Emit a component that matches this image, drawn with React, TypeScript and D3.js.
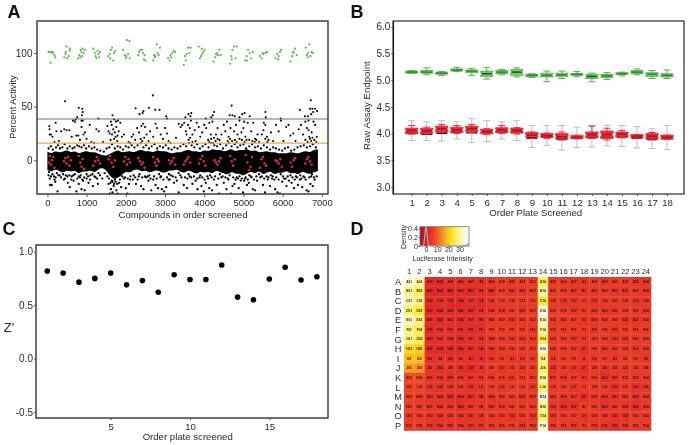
import * as d3 from 'd3';
import React, { useEffect, useRef } from 'react';

// panel A, values
const controlHigh = [
  [30,101],[70,101],[110,100.5],[150,100],[180,98],[200,96],[80,91],[130,101],
  [430,96],[460,99],[490,106],[500,95],[540,97],[570,102],[580,104],[470,101],
  [780,95],[820,98],[850,103],[870,101],[890,97],[900,104],[930,100],[960,103],[840,96],
  [1170,104],[1210,100],[1230,97],[1250,95],[1280,102],[1300,99],[1320,96],[1340,101],
  [1550,97],[1590,99],[1620,103],[1650,105],[1680,93],[1700,100],[1730,102],[1600,95],
  [1930,103],[1970,98],[2000,95],[2030,112],[2060,99],[2090,111],[2100,95],[2010,97],
  [2320,98],[2340,101],[2370,103],[2410,103],[2440,100],[2460,94],[2480,98],[2500,93],
  [2700,93],[2740,96],[2760,97],[2790,108],[2810,100],[2840,98],[2870,105],[2720,98],
  [3080,95],[3120,93],[3150,96],[3190,100],[3220,102],[3260,101],[3140,98],
  [3480,89],[3510,97],[3550,99],[3590,105],[3620,100],[3650,105],[3530,93],
  [3860,106],[3890,95],[3920,97],[3950,99],[3980,101],[4010,103],[3940,104],
  [4240,92],[4280,96],[4320,100],[4350,98],[4390,103],[4420,98],[4300,99],
  [4660,90],[4690,97],[4720,103],[4760,106],[4800,95],[4830,106],[4700,94],
  [5040,93],[5080,97],[5120,103],[5160,100],[5200,95],[5240,101],[5090,93],
  [5420,97],[5470,95],[5510,99],[5560,100],[5600,101],[5490,100],
  [5820,95],[5860,99],[5900,97],[5930,101],[5960,103],[5890,94],
  [6200,92],[6240,97],[6280,101],[6320,104],[6360,98],[6270,100],
  [6590,105],[6620,98],[6650,100],[6680,108],[6710,97],[6740,101],[6770,100],[6640,96],
];

const hitPoints = [
  [450,55],[2690,60.5],[4700,51],[6720,56],[800,49],[890,48],[900,45],[880,42],[650,37],[720,38],[760,40],[870,37],[900,37],
  [1300,39],[1660,42],[1620,36],[1700,38],[1750,36],[1800,37],[2250,48.5],[2350,43],[2430,44],[2450,46],[2590,49],[2750,47],
  [2860,47],[3030,41],[3050,39],[3520,40],[3600,43],[3670,44],[3650,41],[4040,39],[4180,40],[4220,42],[4250,45],[4650,42],
  [4720,42],[4780,41],[4900,40],[4970,43],[5030,44],[4900,37],[5020,36],[5160,41],[5520,35],[5560,45],[5570,40],[5950,39],
  [6440,47],[6570,41],[6650,41],[6700,48],[6760,48],[6830,48],[6880,46],[6730,43],[6780,45],[6660,37],
  [50,32],[55,29],[60,24],[90,24],[130,22],[180,17],[210,35],[230,27],[290,18],[350,27],[430,29],[490,28],[560,28],[620,22],
  [700,36],[740,23],[790,23],[830,19],[870,31],[920,24],[960,26],[1000,20],[1080,33],[1120,17],[1190,16],[1250,29],[1310,27],
  [1420,17],[1530,32],[1560,27],[1590,25],[1640,33],[1680,29],[1720,26],[1760,31],[1790,23],[1820,27],[1860,35],[1900,22],
  [1950,24],[2070,17],[2110,16],[2150,22],[2190,24],[2240,19],[2290,30],[2340,26],[2400,32],[2440,34],[2490,31],[2530,24],
  [2580,18],[2620,27],[2700,22],[2760,34],[2800,30],[2890,24],[2950,20],[3000,30],[3050,25],[3090,18],[3140,16],[3280,21],
  [3350,34],[3400,31],[3440,33],[3490,35],[3530,27],[3550,24],[3590,33],[3630,30],[3660,37],[3700,24],[3760,28],[3810,35],
  [3860,31],[3900,22],[3950,26],[4000,33],[4050,30],[4100,19],[4130,35],[4170,24],[4210,36],[4250,21],[4290,18],[4340,30],
  [4390,19],[4440,24],[4500,33],[4540,27],[4580,36],[4620,22],[4670,30],[4710,18],[4760,27],[4810,33],[4850,24],[4900,20],
  [4950,26],[5000,30],[5050,22],[5110,35],[5150,19],[5200,27],[5250,35],[5300,20],[5360,24],[5400,17],[5470,24],[5510,28],
  [5560,33],[5600,22],[5640,19],[5700,26],[5760,18],[5830,33],[5900,27],[5960,37],[6020,18],[6090,31],[6150,33],[6200,23],
  [6270,25],[6330,18],[6410,29],[6470,33],[6520,24],[6580,36],[6620,30],[6660,28],[6700,20],[6740,26],[6790,36],[6830,33],[6870,22],
  [1650,24],[1700,20],[1740,22],[1780,18],[1610,19],[2380,20],[2420,18],[2470,21],[3600,19],[3640,21],[3700,17],[3780,18],
  [4130,17],[4180,20],[4230,16],[4300,24],[4340,20],[4600,18],[4660,20],[4780,19],[4830,17],[4960,19],[5030,17],[5080,19],
  [5230,18],[5290,17],[5330,19],[5560,20],[5610,17],[6580,19],[6640,17],[6680,22],[6730,18],[6760,21],[6810,19],[6860,17],
];

const upperEdge = [
  [30,11],[90,13],[140,10],[220,12],[270,14],[320,11],[380,12],[440,15],[510,11],[570,13],[640,11],[690,12],[760,14],[810,13],[870,12],[930,14],[990,11],[1060,13],
  [1130,11],[1200,12],[1270,10],[1350,9],[1440,8],[1510,11],[1580,12],[1650,15],[1720,11],[1790,13],[1860,12],[1930,10],[2000,13],[2070,12],[2150,14],[2220,12],
  [2300,14],[2380,16],[2450,12],[2520,14],[2590,11],[2660,13],[2730,15],[2800,11],[2870,13],[2950,12],[3020,14],[3090,11],[3170,10],[3240,12],[3320,11],[3390,13],
  [3470,15],[3540,13],[3610,16],[3680,14],[3750,12],[3820,15],[3890,11],[3960,13],[4030,15],[4110,12],[4180,16],[4260,14],[4330,13],[4410,15],[4480,11],[4560,14],
  [4630,16],[4700,13],[4780,15],[4850,12],[4920,14],[5000,15],[5070,11],[5150,13],[5220,15],[5300,12],[5370,13],[5450,11],[5520,14],[5600,12],[5680,10],[5760,12],
  [5830,11],[5910,10],[5990,9],[6060,11],[6140,12],[6220,9],[6300,10],[6380,12],[6460,13],[6540,14],[6620,12],[6700,13],[6770,15],[6850,12],
];

const lowerPoints = [
  [30,-14],[70,-23],[110,-23],[60,-17],[170,-15],[200,-20],[260,-29],[180,-18],[310,-14],[350,-16],[420,-18],[470,-14],[520,-21],[570,-25],[620,-15],[670,-19],
  [740,-29],[800,-22],[830,-16],[870,-27],[910,-19],[950,-28],[1000,-17],[1050,-21],[1100,-14],[1160,-24],[1230,-16],[1290,-22],[1340,-14],[1400,-17],
  [1530,-15],[1560,-22],[1590,-31],[1620,-27],[1640,-19],[1660,-30],[1690,-24],[1720,-18],[1760,-28],[1790,-31],[1830,-21],[1880,-25],[1950,-17],[2000,-26],
  [2040,-31],[2080,-22],[2120,-15],[2180,-18],[2260,-22],[2330,-15],[2390,-24],[2450,-27],[2520,-16],[2580,-19],[2650,-28],[2700,-18],[2760,-23],[2820,-26],
  [2880,-16],[2920,-27],[2980,-29],[3030,-25],[3090,-18],[3150,-14],[3230,-21],[3300,-19],[3350,-30],[3420,-16],[3480,-23],[3560,-26],[3630,-15],[3700,-22],
  [3780,-19],[3830,-27],[3880,-16],[3930,-24],[3990,-29],[4040,-21],[4080,-15],[4130,-26],[4200,-28],[4250,-18],[4320,-23],[4380,-31],[4440,-16],[4500,-21],
  [4570,-27],[4620,-18],[4680,-31],[4720,-24],[4770,-22],[4830,-16],[4880,-26],[4930,-19],[4990,-30],[5040,-17],[5090,-23],[5140,-21],[5190,-15],[5240,-27],
  [5300,-28],[5350,-19],[5430,-16],[5500,-23],[5550,-30],[5620,-18],[5680,-24],[5750,-15],[5810,-27],[5870,-30],[5930,-31],[5990,-20],[6040,-17],[6100,-24],
  [6160,-19],[6230,-21],[6290,-26],[6340,-15],[6390,-23],[6440,-18],[6500,-25],[6560,-16],[6610,-28],[6660,-29],[6710,-22],[6770,-24],[6820,-18],[6870,-15],
  [40,-11],[130,-13],[240,-12],[400,-13],[560,-14],[700,-13],[850,-14],[1000,-13],[1150,-13],[1300,-12],[1460,-12],[2200,-14],[2350,-13],[2600,-14],[2850,-13],
  [3100,-13],[3350,-12],[3600,-13],[3900,-14],[4150,-14],[4400,-13],[4650,-14],[4900,-15],[5150,-14],[5400,-13],[5700,-14],[5950,-13],[6200,-14],[6450,-14],[6750,-13],
  [90,-15],[210,-16],[280,-14],[450,-17],[510,-15],[610,-18],[660,-14],[760,-17],[800,-15],[890,-18],[940,-16],[1040,-15],[1090,-18],[1200,-15],[1270,-17],
  [1570,-17],[1610,-21],[1660,-20],[1700,-22],[1740,-20],[1780,-22],[1850,-18],[1910,-15],[1980,-16],[2050,-17],[2110,-18],[2240,-16],[2300,-18],[2420,-16],
  [2490,-15],[2560,-15],[2630,-17],[2720,-15],[2790,-17],[2900,-15],[2960,-18],[3050,-16],[3120,-18],[3200,-15],[3270,-16],[3390,-14],[3510,-16],[3570,-17],
  [3670,-16],[3740,-15],[3820,-17],[3950,-16],[4010,-18],[4100,-17],[4190,-16],[4280,-15],[4360,-17],[4470,-15],[4540,-16],[4600,-17],[4740,-16],[4800,-18],
  [4860,-17],[4960,-17],[5020,-19],[5060,-16],[5110,-18],[5210,-16],[5270,-18],[5330,-15],[5470,-15],[5530,-17],[5590,-15],[5640,-16],[5730,-17],[5790,-18],
  [5840,-16],[5900,-18],[6010,-15],[6080,-17],[6130,-15],[6250,-16],[6310,-18],[6370,-16],[6480,-17],[6530,-15],[6590,-18],[6680,-16],[6730,-15],[6800,-16],
];

const bandX = d3.range(0, 7000, 100);
const bandTop = [
  8,6,9,7,8,10,7,9,6,8,
  9,7,8,6,5,4,6,8,10,7,
  8,9,7,9,10,8,9,7,10,8,
  9,7,6,8,7,9,10,8,9,7,
  10,8,11,9,10,8,9,11,8,10,
  9,11,8,10,7,8,9,7,8,6,
  7,6,8,7,6,8,9,7,10,10,
];
const bandBottom = [
  -9,-11,-8,-10,-12,-9,-11,-9,-13,-10,
  -11,-9,-12,-8,-7,-9,-15,-18,-16,-14,
  -10,-12,-9,-8,-11,-9,-12,-10,-9,-11,
  -12,-9,-10,-8,-11,-12,-9,-11,-13,-10,
  -12,-10,-13,-9,-11,-12,-14,-10,-13,-12,
  -15,-12,-10,-13,-9,-14,-11,-10,-14,-11,
  -12,-9,-13,-11,-14,-10,-12,-13,-11,-10,
];

const controlLow = [
  [40,-2],[60,4],[90,-4],[120,0],[150,3],[180,-7],[420,-1],[460,2],[490,-3],[530,3],[560,-5],[600,0],
  [800,4],[840,-2],[870,-6],[900,1],[940,-8],[1170,-5],[1220,-1],[1260,3],[1300,0],[1340,-3],
  [1560,1],[1600,4],[1640,-2],[1680,-6],[1720,0],[1950,-1],[1990,3],[2030,-4],[2070,1],[2110,-2],
  [2320,2],[2360,-1],[2400,-4],[2440,-2],[2480,-7],[2700,3],[2740,-2],[2780,-5],[2810,1],[2840,-1],
  [3100,0],[3140,-3],[3180,-1],[3220,2],[3260,-4],[3480,-4],[3520,-1],[3560,1],[3600,3],[3640,-2],
  [3870,-3],[3910,1],[3950,4],[3990,-1],[4030,-5],[4260,0],[4300,-2],[4340,-4],[4380,-1],[4420,2],
  [4660,4],[4700,-1],[4740,-5],[4780,1],[5060,5],[5100,-2],[5140,-9],[5180,-6],[5220,3],[5420,-7],[5460,1],[5500,3],[5540,-3],[5580,-5],
  [5820,0],[5860,-1],[5900,-3],[5940,1],[5980,-6],[6200,-2],[6240,-6],[6280,0],[6320,2],[6580,-3],[6620,1],[6660,3],[6700,-1],[6740,-4],
];

const hitCutoffs = [38.5, 16];

// panel B
const plates = d3.range(1, 19);
const rawLow = [3.87,3.87,3.86,3.90,3.83,3.85,3.90,3.87,3.74,3.78,3.69,3.74,3.75,3.77,3.76,3.73,3.72,3.70];
const rawHigh = [4.24,4.22,4.24,4.22,4.28,4.24,4.22,4.24,4.15,4.15,4.15,4.12,4.15,4.15,4.15,4.13,4.09,4.15];
const rawQ1 = [3.99,3.98,4.0,4.01,4.0,3.99,4.01,4.0,3.9,3.92,3.88,3.9,3.9,3.91,3.92,3.9,3.88,3.89];
const rawQ3 = [4.1,4.09,4.11,4.11,4.12,4.08,4.1,4.1,4.02,4.0,3.99,3.97,4.02,4.03,4.02,3.98,3.98,3.97];
const rawMedian = [4.01,3.99,4.01,4.03,4.02,4.02,4.03,4.03,3.92,3.94,3.90,3.92,3.93,3.93,3.94,3.92,3.90,3.91];
const negLow = [3.99,3.99,4.02,4.0,4.02,3.98,4.0,3.99,3.91,3.91,3.88,3.9,3.91,3.88,3.92,3.92,3.88,3.89];
const negQ1 = [4.0,4.0,4.03,4.02,4.04,4.0,4.02,4.01,3.94,3.93,3.91,3.91,3.93,3.91,3.94,3.93,3.91,3.9];
const negMedian = [4.06,4.05,4.09,4.07,4.09,4.04,4.07,4.06,3.97,3.96,3.94,3.93,3.98,3.98,3.99,3.95,3.95,3.93];
const negQ3 = [4.1,4.1,4.14,4.12,4.14,4.08,4.11,4.1,4.02,4.0,4.0,3.96,4.03,4.05,4.03,3.98,4.0,3.97];
const negHigh = [4.15,4.12,4.17,4.15,4.17,4.09,4.15,4.11,4.03,4.01,4.03,3.97,4.14,4.1,4.06,3.98,4.02,3.97];
const posLow = [5.13,5.10,5.09,5.16,5.09,5.02,5.10,5.06,5.05,4.97,5.03,5.07,4.97,5.01,5.08,5.10,5.03,5.03];
const posQ1 = [5.13,5.13,5.11,5.17,5.14,5.07,5.12,5.09,5.07,5.06,5.07,5.09,5.03,5.05,5.11,5.12,5.07,5.06];
const posMedian = [5.15,5.15,5.13,5.19,5.17,5.12,5.15,5.15,5.09,5.09,5.10,5.11,5.07,5.08,5.12,5.15,5.11,5.09];
const posQ3 = [5.17,5.18,5.15,5.21,5.19,5.17,5.18,5.20,5.11,5.13,5.13,5.12,5.11,5.11,5.14,5.18,5.14,5.12];
const posHigh = [5.18,5.23,5.16,5.24,5.22,5.24,5.20,5.23,5.12,5.17,5.17,5.16,5.13,5.14,5.15,5.21,5.18,5.19];
const posDarkPlates = [6, 8, 13];

// panel C
const zPrime = [0.82,0.80,0.715,0.75,0.80,0.69,0.73,0.62,0.785,0.74,0.74,0.875,0.575,0.55,0.745,0.855,0.735,0.765];

// panel D
const rowNames = ['A','B','C','D','E','F','G','H','I','J','K','L','M','N','O','P'];
const colNames = d3.range(1, 25);
const intensity = [
  [35,31,3,3,4,4,4,4,5,6,5,6,6,27,6,6,5,5,6,5,6,6,5,5],
  [29,27,3,3,3,4,3,4,4,6,5,5,6,30,6,6,5,5,5,6,5,5,6,5],
  [32,29,3,4,3,3,4,3,5,6,6,6,6,25,6,5,5,6,5,6,6,6,5,6],
  [28,25,3,3,3,3,3,4,5,5,6,5,6,36,6,6,5,6,5,5,5,6,6,5],
  [33,29,4,3,4,3,4,4,5,6,5,6,6,33,6,5,6,5,5,6,6,5,5,6],
  [29,26,3,4,4,4,3,4,6,6,6,6,5,30,6,6,6,6,5,6,5,6,6,6],
  [29,26,4,4,4,3,4,4,5,6,5,5,6,26,6,6,5,5,6,6,5,5,6,6],
  [22,21,3,3,3,3,4,4,5,6,6,6,6,35,6,6,6,4,6,5,6,6,5,6],
  [19,19,4,5,4,5,4,4,5,6,5,5,6,28,6,6,6,5,5,6,5,6,6,5],
  [16,15,5,4,5,4,3,4,6,5,6,5,6,27,5,6,5,4,6,5,6,6,6,6],
  [8,8,5,5,4,5,5,5,5,6,5,6,6,30,6,5,6,5,6,4,5,6,5,6],
  [7,7,5,4,5,5,4,5,6,5,6,6,5,28,6,6,5,6,6,6,4,6,4,5],
  [7,6,5,5,4,4,4,5,5,6,6,5,6,35,6,5,6,4,6,5,5,6,5,6],
  [7,6,5,5,5,4,5,5,5,5,6,6,6,29,5,4,4,6,6,4,6,5,4,6],
  [6,6,5,5,5,5,5,5,6,6,5,6,5,28,6,6,6,5,6,6,5,5,6,6],
  [6,6,5,5,5,5,5,5,6,6,6,5,6,34,6,6,5,6,6,5,4,5,6,6],
];
const densityX = [-5.4,-3,-2,-1,-0.5,0,0.5,1,2,3,5,10,20,30,38.5];
const densityY = [0,0,0.03,0.25,0.38,0.43,0.38,0.25,0.04,0.01,0.005,0,0,0,0];
const secondDensityX = [32,35,37,38.5];
const secondDensityY = [0,0.005,0.03,0.06];

const fontFamily = '"Liberation Sans", Arial, sans-serif';
const textColor = '#2b2b2b';

const heatColor = d3
  .scaleLinear<string>()
  .domain([-5.4, 0, 4, 7, 14, 18, 24, 30, 38.5])
  .range(['#a30f26', '#d4202a', '#e3302a', '#ed4128', '#f6842a', '#fdb51c', '#f8e82c', '#fff59a', '#ffffff']);

const styleAxis = (g, fontSize = 10) => {
  g.selectAll('text').style('font-family', fontFamily).style('font-size', `${fontSize}px`).style('fill', textColor);
  g.selectAll('line').style('stroke', '#333').style('stroke-width', 0.8);
  g.select('.domain').remove();
};

const addLabel = (svg, text, x, y, size = 9.6, rotate = false, weight = 'normal') => {
  const t = svg
    .append('text')
    .text(text)
    .attr('text-anchor', 'middle')
    .style('font-family', fontFamily)
    .style('font-size', `${size}px`)
    .style('font-weight', weight)
    .style('fill', weight === 'bold' ? '#111' : textColor);
  if (rotate) t.attr('transform', `translate(${x},${y}) rotate(-90)`);
  else t.attr('x', x).attr('y', y);
};

const addFrame = (svg, x0, x1, y0, y1, color = '#333') => {
  svg
    .append('rect')
    .attr('x', x0)
    .attr('y', y0)
    .attr('width', x1 - x0)
    .attr('height', y1 - y0)
    .attr('fill', 'none')
    .attr('stroke', color)
    .attr('stroke-width', 1.4);
};

const drawPanelA = (svg) => {
  const x = d3.scaleLinear().domain([0, 7000]).range([47.4, 321.8]);
  const y = d3.scaleLinear().domain([0, 100]).range([160.3, 53]);
  const clipId = 'clip-a';
  svg.append('clipPath').attr('id', clipId).append('rect').attr('x', 37).attr('y', 21).attr('width', 291).attr('height', 173);
  const g = svg.append('g').attr('clip-path', `url(#${clipId})`);

  const area = d3
    .area<number>()
    .x((d) => x(d))
    .y0((d, i) => y(bandBottom[i]))
    .y1((d, i) => y(bandTop[i]))
    .curve(d3.curveBasis);
  g.append('path').attr('d', area(bandX)).attr('fill', '#000');

  const dots = (data, r, fill) => {
    g.append('g')
      .selectAll('circle')
      .data(data)
      .enter()
      .append('circle')
      .attr('cx', (d) => x(d[0]))
      .attr('cy', (d) => y(d[1]))
      .attr('r', r)
      .attr('fill', fill);
  };
  dots(upperEdge, 1.15, '#000');
  dots(lowerPoints, 1.15, '#000');
  dots(hitPoints, 1.05, '#000');
  dots(controlHigh, 1.1, '#5cb84a');
  dots(controlLow, 1.3, '#d4303a');

  const cutoffColors = ['#8e5aa8', '#eda84a'];
  hitCutoffs.forEach((v, i) => {
    g.append('line').attr('x1', 37).attr('x2', 328).attr('y1', y(v)).attr('y2', y(v)).attr('stroke', cutoffColors[i]).attr('stroke-width', 1.2);
  });

  addFrame(svg, 37, 328, 21, 194);
  const xAxis = svg.append('g').attr('transform', 'translate(0,194)').call(d3.axisBottom(x).ticks(8).tickSize(3).tickPadding(2).tickFormat(d3.format('d')));
  styleAxis(xAxis, 9.4);
  const yAxis = svg.append('g').attr('transform', 'translate(37,0)').call(d3.axisLeft(y).tickValues([0, 50, 100]).tickSize(3).tickPadding(1.5));
  styleAxis(yAxis, 10);
  addLabel(svg, 'Compounds in order screened', 183, 218);
  addLabel(svg, 'Percent Activity', 16, 107, 9.3, true);
};

const drawPanelB = (svg) => {
  const x = d3.scaleLinear().domain([1, 18]).range([411.7, 667]);
  const y = d3.scaleLinear().domain([3, 6]).range([187, 26.7]);
  const half = 6.2;
  const notch = 4.6;

  // notched box outline, the notch closes at the median
  const boxPath = (q1, med, q3, cx) => {
    const nd = Math.min(Math.abs(y(q1) - y(med)), Math.abs(y(q3) - y(med))) * 0.5;
    const p = d3.path();
    p.moveTo(cx - half, y(q1));
    p.lineTo(cx + half, y(q1));
    p.lineTo(cx + half, y(med) + nd);
    p.lineTo(cx + notch, y(med));
    p.lineTo(cx + half, y(med) - nd);
    p.lineTo(cx + half, y(q3));
    p.lineTo(cx - half, y(q3));
    p.lineTo(cx - half, y(med) - nd);
    p.lineTo(cx - notch, y(med));
    p.lineTo(cx - half, y(med) + nd);
    p.closePath();
    return p.toString();
  };

  const drawBoxes = (low, q1, med, q3, high, fill, stroke, medColor, capW, opacity, notched) => {
    const g = svg.append('g');
    plates.forEach((plate, i) => {
      const cx = x(plate);
      g.append('line').attr('x1', cx).attr('x2', cx).attr('y1', y(low[i])).attr('y2', y(high[i])).attr('stroke', stroke).attr('stroke-width', 1);
      [low[i], high[i]].forEach((v) => {
        g.append('line').attr('x1', cx - capW).attr('x2', cx + capW).attr('y1', y(v)).attr('y2', y(v)).attr('stroke', stroke).attr('stroke-width', 1);
      });
      if (notched) {
        g.append('path').attr('d', boxPath(q1[i], med[i], q3[i], cx)).attr('fill', fill).attr('fill-opacity', opacity).attr('stroke', stroke).attr('stroke-width', 0.8);
      } else {
        g.append('rect').attr('x', cx - half).attr('width', half * 2).attr('y', y(q3[i])).attr('height', y(q1[i]) - y(q3[i])).attr('fill', fill).attr('fill-opacity', opacity).attr('stroke', stroke).attr('stroke-width', 0.8);
      }
      const mc = posDarkPlates.includes(plate) && medColor === '#2c8a3a' ? '#14602a' : medColor;
      g.append('line').attr('x1', cx - half + 1).attr('x2', cx + half - 1).attr('y1', y(med[i])).attr('y2', y(med[i])).attr('stroke', mc).attr('stroke-width', 1.6);
    });
  };

  drawBoxes(rawLow, rawQ1, rawMedian, rawQ3, rawHigh, '#cfcfcf', '#bdbdbd', '#000', 3.5, 1, false);
  drawBoxes(negLow, negQ1, negMedian, negQ3, negHigh, '#ea1f2e', '#ee2c38', '#b01428', 3.5, 0.92, true);
  drawBoxes(posLow, posQ1, posMedian, posQ3, posHigh, '#6cc05a', '#58b048', '#2c8a3a', 3.5, 0.85, true);

  svg.append('rect').attr('x', 393.3).attr('y', 21).attr('width', 290.7).attr('height', 173).attr('fill', 'none').attr('stroke', '#5f5f5f').attr('stroke-width', 1.6);
  svg.append('line').attr('x1', 393.3).attr('x2', 393.3).attr('y1', 21).attr('y2', 194).attr('stroke', '#111').attr('stroke-width', 1.2);

  const xAxis = svg.append('g').attr('transform', 'translate(0,194)').call(d3.axisBottom(x).tickValues(plates).tickSize(2).tickPadding(3).tickFormat(d3.format('d')));
  styleAxis(xAxis, 9.6);
  const yAxis = svg.append('g').attr('transform', 'translate(393.3,0)').call(d3.axisLeft(y).tickValues([3, 3.5, 4, 4.5, 5, 5.5, 6]).tickSize(2).tickPadding(1).tickFormat(d3.format('.1f')));
  styleAxis(yAxis, 10);
  addLabel(svg, 'Order Plate Screened', 535.7, 215.5);
  addLabel(svg, 'Raw Assay Endpoint', 370, 105.7, 9.7, true);
};

const drawPanelC = (svg) => {
  const x = d3.scaleLinear().domain([5, 15]).range([110.7, 269.3]);
  const y = d3.scaleLinear().domain([-0.5, 1]).range([412, 251.7]);
  svg
    .append('g')
    .selectAll('circle')
    .data(zPrime)
    .enter()
    .append('circle')
    .attr('cx', (d, i) => x(i + 1))
    .attr('cy', (d) => y(d))
    .attr('r', 2.8)
    .attr('fill', '#000');
  addFrame(svg, 36, 328, 245, 418);
  const xAxis = svg.append('g').attr('transform', 'translate(0,418)').call(d3.axisBottom(x).tickValues([5, 10, 15]).tickSize(2).tickPadding(3));
  styleAxis(xAxis, 9.6);
  const yAxis = svg.append('g').attr('transform', 'translate(36,0)').call(d3.axisLeft(y).tickValues([-0.5, 0, 0.5, 1]).tickSize(2).tickPadding(1).tickFormat((d) => d3.format('.1f')(d).replace('\u2212', '-')));
  styleAxis(yAxis, 10);
  addLabel(svg, 'Order plate screened', 187.7, 440);
  addLabel(svg, "Z'", 9, 332, 13);
};

const drawPanelD = (svg) => {
  const x = d3.scaleBand<number>().domain(colNames).range([404, 651]);
  const y = d3.scaleBand<string>().domain(rowNames).range([277, 430.5]);

  rowNames.forEach((row, r) => {
    colNames.forEach((col, c) => {
      svg.append('rect').attr('x', x(col)).attr('y', y(row)).attr('width', x.bandwidth() + 0.3).attr('height', y.bandwidth() + 0.3).attr('fill', heatColor(intensity[r][c]));
      const num = col === 8 ? '8' : col === 18 ? '1' : String(col).padStart(2, '0');
      svg
        .append('text')
        .text(`${row}${num}`)
        .attr('x', x(col) + x.bandwidth() / 2)
        .attr('y', y(row) + y.bandwidth() / 2 + 1)
        .attr('text-anchor', 'middle')
        .style('font-family', fontFamily)
        .style('font-size', '3.2px')
        .style('font-weight', 'bold')
        .style('fill', '#2a1a12');
    });
    addLabel(svg, row, 398, y(row) + y.bandwidth() / 2 + 3.3, 9.2);
  });
  colNames.forEach((col) => addLabel(svg, String(col), x(col) + x.bandwidth() / 2, 274, 7.6));

  // colour key with density trace
  const keyX = d3.scaleLinear().domain([0, 30]).range([426, 459.5]);
  const keyY = d3.scaleLinear().domain([0, 0.4]).range([246, 228.3]);
  const defs = svg.append('defs');
  const grad = defs.append('linearGradient').attr('id', 'key-grad');
  heatColor.domain().forEach((v) => {
    grad.append('stop').attr('offset', `${((v + 5.4) / 43.9) * 100}%`).attr('stop-color', heatColor(v));
  });
  svg.append('rect').attr('x', keyX(-5.4)).attr('y', 226.7).attr('width', keyX(38.5) - keyX(-5.4)).attr('height', 19.3).attr('fill', 'url(#key-grad)').attr('stroke', '#777').attr('stroke-width', 0.8);
  const line = d3
    .line<number>()
    .x((d) => keyX(d))
    .y((d, i) => keyY(densityY[i]));
  svg.append('path').attr('d', line(densityX)).attr('fill', 'none').attr('stroke', '#a9a9b0').attr('stroke-width', 1.2);
  const line2 = d3
    .line<number>()
    .x((d) => keyX(d))
    .y((d, i) => keyY(secondDensityY[i]));
  svg.append('path').attr('d', line2(secondDensityX)).attr('fill', 'none').attr('stroke', '#3fb0c8').attr('stroke-width', 1.2);
  const xAxis = svg.append('g').attr('transform', 'translate(0,246)').call(d3.axisBottom(keyX).tickValues([0, 10, 20, 30]).tickSize(1.5).tickPadding(0));
  styleAxis(xAxis, 7);
  const yAxis = svg.append('g').attr('transform', `translate(${keyX(-5.4)},0)`).call(d3.axisLeft(keyY).tickValues([0, 0.2, 0.4]).tickSize(1.5).tickPadding(0.5).tickFormat((d) => (d === 0 ? '0' : d3.format('.1f')(d))));
  styleAxis(yAxis, 7.2);
  addLabel(svg, 'Luciferase Intensity', 442.7, 261, 7);
  addLabel(svg, 'Density', 405.5, 237, 7.2, true);
};

const App = () => {
  const ref = useRef<SVGSVGElement | null>(null);

  useEffect(() => {
    if (!ref.current) {
      return;
    }
    const svg = d3.select(ref.current);
    svg.selectAll('*').remove();
    drawPanelA(svg);
    drawPanelB(svg);
    drawPanelC(svg);
    drawPanelD(svg);
    addLabel(svg, 'A', 14, 17.5, 18, false, 'bold');
    addLabel(svg, 'B', 357, 17.5, 18, false, 'bold');
    addLabel(svg, 'C', 9, 235, 18, false, 'bold');
    addLabel(svg, 'D', 357, 235, 18, false, 'bold');
  }, []);

  return <svg ref={ref} width={689} height={445} style={{ position: 'absolute', left: 0, top: 0, background: '#fff', filter: 'blur(0.35px)' }} />;
};

export default App;
